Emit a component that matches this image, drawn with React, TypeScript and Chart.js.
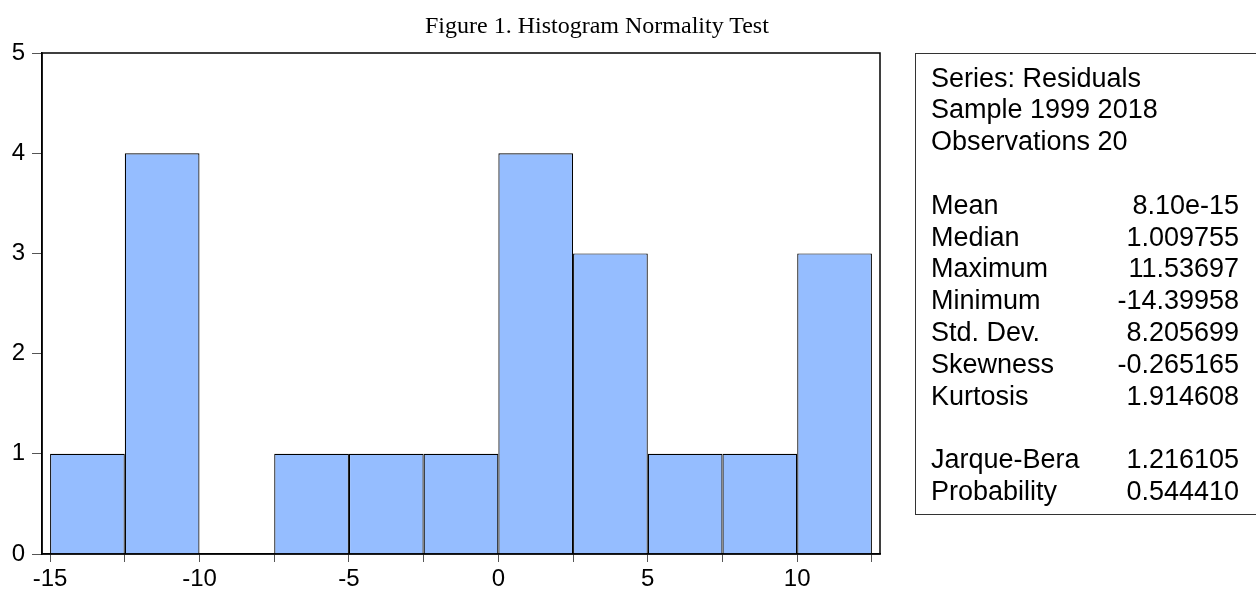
import React, { useEffect, useRef } from "react";
import { Chart, registerables } from "chart.js";

Chart.register(...registerables);

const chartTitle = "Figure 1. Histogram Normality Test";
const binCenters = [-13.75, -11.25, -8.75, -6.25, -3.75, -1.25, 1.25, 3.75, 6.25, 8.75, 11.25];
const binCounts = [1, 4, 0, 1, 1, 1, 4, 3, 1, 1, 3];
const xTickValues = [-15, -12.5, -10, -7.5, -5, -2.5, 0, 2.5, 5, 7.5, 10, 12.5];
const xLabelValues = [-15, -10, -5, 0, 5, 10];
const xMin = -15.27;
const xMax = 12.77;
const yMin = 0;
const yMax = 5;

const headerLines = ["Series: Residuals", "Sample 1999 2018", "Observations 20"];
const statNames = ["Mean", "Median", "Maximum", "Minimum", "Std. Dev.", "Skewness", "Kurtosis"];
const statValues = ["8.10e-15", "1.009755", "11.53697", "-14.39958", "8.205699", "-0.265165", "1.914608"];
const testNames = ["Jarque-Bera", "Probability"];
const testValues = ["1.216105", "0.544410"];

const W = 1256;
const H = 593;
const AREA = { left: 42, top: 53, right: 880, bottom: 554 };
const FONT = "'Liberation Sans', Arial, Helvetica, sans-serif";
const ROW = 31.8;

const framePlugin = {
  id: "frame",
  afterDatasetsDraw(chart: any) {
    const { ctx, chartArea } = chart;
    ctx.save();
    ctx.strokeStyle = "#000";
    ctx.lineWidth = 1.5;
    ctx.strokeRect(chartArea.left, chartArea.top, chartArea.right - chartArea.left, chartArea.bottom - chartArea.top);
    ctx.restore();
  },
};

export default function App() {
  const ref = useRef<HTMLCanvasElement | null>(null);

  useEffect(() => {
    document.body.style.margin = "0";
    document.body.style.overflow = "hidden";
    if (!ref.current) return;
    const chart = new Chart(ref.current, {
      type: "bar",
      data: {
        datasets: [
          {
            data: binCenters.map((x, i) => ({ x, y: binCounts[i] })),
            backgroundColor: "rgb(149,189,255)",
            borderColor: "#000",
            borderWidth: 1.2,
            borderSkipped: "start",
            barPercentage: 1,
            categoryPercentage: 1,
            inflateAmount: 0,
          } as any,
        ],
      },
      options: {
        responsive: false,
        maintainAspectRatio: false,
        animation: false,
        events: [],
        layout: {
          padding: { left: 0, top: AREA.top, right: W - AREA.right, bottom: 0 },
        },
        plugins: {
          legend: { display: false },
          tooltip: { enabled: false },
          title: { display: false },
        },
        scales: {
          x: {
            type: "linear",
            min: xMin,
            max: xMax,
            offset: false,
            afterBuildTicks: (scale: any) => {
              scale.ticks = xTickValues.map((v) => ({ value: v }));
            },
            afterFit: (scale: any) => {
              scale.height = H - AREA.bottom;
            },
            grid: {
              display: true,
              offset: false,
              drawOnChartArea: false,
              drawTicks: true,
              tickLength: 8,
              tickColor: "#555",
              tickWidth: 1,
            },
            border: { display: true, color: "#000", width: 1.5 },
            ticks: {
              autoSkip: false,
              maxRotation: 0,
              padding: 3,
              color: "#000",
              font: { family: FONT, size: 24 },
              callback: (v: any) => (xLabelValues.includes(Number(v)) ? String(v) : ""),
            },
          },
          y: {
            type: "linear",
            min: yMin,
            max: yMax,
            afterFit: (scale: any) => {
              scale.width = AREA.left;
            },
            grid: {
              display: true,
              offset: false,
              drawOnChartArea: false,
              drawTicks: true,
              tickLength: 10,
              tickColor: "#555",
              tickWidth: 1,
            },
            border: { display: true, color: "#000", width: 1.5 },
            ticks: {
              stepSize: 1,
              padding: 7,
              color: "#000",
              font: { family: FONT, size: 24 },
            },
          },
        },
      },
      plugins: [framePlugin],
    } as any);
    return () => chart.destroy();
  }, []);

  const rowStyle = (i: number): React.CSSProperties => ({
    position: "absolute",
    left: 930 - 915,
    width: 1238 - 930,
    top: 8.5 + i * ROW,
    height: ROW,
    lineHeight: ROW + "px",
    display: "flex",
    justifyContent: "space-between",
    whiteSpace: "nowrap",
  });

  const rows: { name: string; value: string }[] = [];
  headerLines.forEach((h) => rows.push({ name: h, value: "" }));
  rows.push({ name: "", value: "" });
  statNames.forEach((n, i) => rows.push({ name: n, value: statValues[i] }));
  rows.push({ name: "", value: "" });
  testNames.forEach((n, i) => rows.push({ name: n, value: testValues[i] }));

  return (
    <div style={{ position: "relative", width: W, height: H, overflow: "hidden", background: "#fff" }}>
      <canvas ref={ref} width={W} height={H} style={{ position: "absolute", left: 0, top: 0, width: W, height: H }} />
      <div
        style={{
          position: "absolute",
          left: 425,
          top: 11,
          whiteSpace: "nowrap",
          fontFamily: "'Liberation Serif', 'Times New Roman', serif",
          fontSize: 24,
          lineHeight: "28px",
          color: "#000",
        }}
      >
        {chartTitle}
      </div>
      <div
        style={{
          position: "absolute",
          left: 915,
          top: AREA.top,
          width: W - 915 + 20,
          height: 515 - AREA.top,
          border: "1px solid #333",
          boxSizing: "border-box",
          fontFamily: FONT,
          fontSize: 27,
          color: "#000",
        }}
      >
        {rows.map((r, i) =>
          r.name === "" ? null : (
            <div key={i} style={rowStyle(i)}>
              <span>{r.name}</span>
              <span>{r.value}</span>
            </div>
          )
        )}
      </div>
    </div>
  );
}
